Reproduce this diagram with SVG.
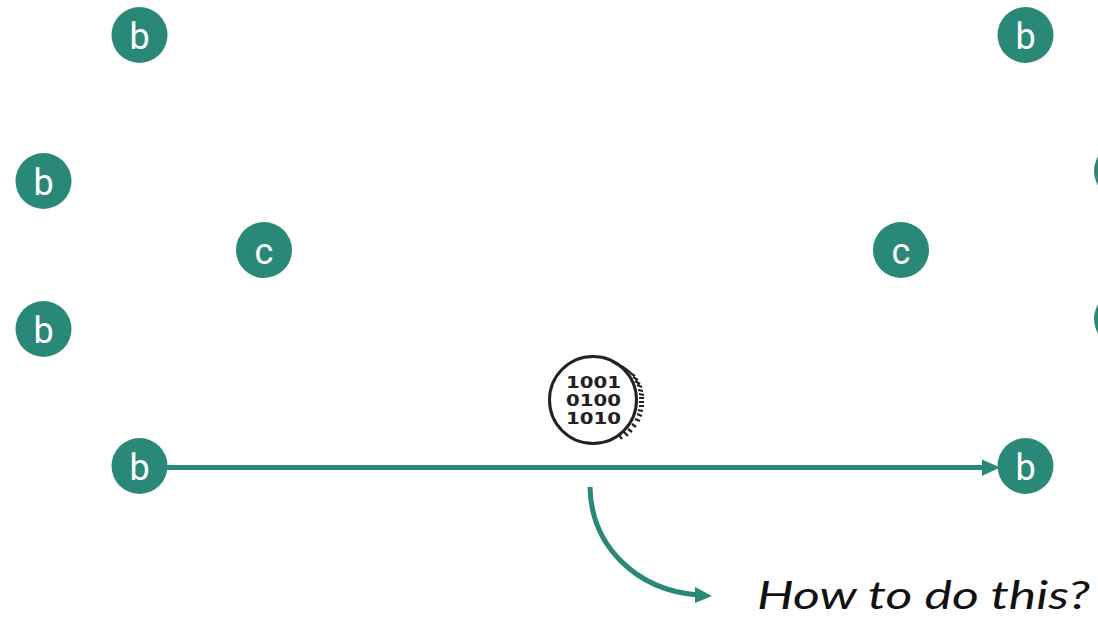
<svg xmlns="http://www.w3.org/2000/svg" width="1098" height="618" viewBox="0 0 1098 618">
<style>
.n{fill:#2a8878}
.l{font-family:Roboto,"Liberation Sans",sans-serif;font-size:36px;fill:#fff;text-anchor:middle}
.c{fill:none;stroke:#2a8878;stroke-width:5}
.h{fill:#2a8878}
.d{font-family:"DejaVu Sans","Liberation Sans",sans-serif;font-weight:700;font-size:15.400px;fill:#222;text-anchor:middle}
</style>
<rect width="1098" height="618" fill="#fff"/>
<g id="connectors">
<path class="c" d="M167 467.500H986"/>
<path class="h" d="M982 459.500L1000 467.500L982 476Z"/>
<path class="c" d="M590 487C591 545 635 590 698 595"/>
<path class="h" d="M695 587L712 596L695 603Z"/>
</g>
<g id="b1"><circle class="n" cx="139.500" cy="35" r="28"/><text class="l" x="139.500" y="49">b</text></g>
<g id="b2"><circle class="n" cx="1025.500" cy="35" r="28"/><text class="l" x="1025.500" y="49">b</text></g>
<g id="b3"><circle class="n" cx="43.500" cy="181" r="28"/><text class="l" x="43.500" y="195">b</text></g>
<g id="b4"><circle class="n" cx="43.500" cy="329" r="28"/><text class="l" x="43.500" y="343">b</text></g>
<g id="b5"><circle class="n" cx="139.500" cy="466" r="28"/><text class="l" x="139.500" y="480">b</text></g>
<g id="b6"><circle class="n" cx="1025.500" cy="466" r="28"/><text class="l" x="1025.500" y="480">b</text></g>
<g id="b7"><circle class="n" cx="1122" cy="171" r="28"/></g>
<g id="b8"><circle class="n" cx="1122" cy="319" r="28"/></g>
<g id="c1"><circle class="n" cx="264" cy="250" r="28"/><text class="l" x="264" y="264">c</text></g>
<g id="c2"><circle class="n" cx="901" cy="250" r="28"/><text class="l" x="901" y="264">c</text></g>
<g id="binary">
<circle cx="593" cy="400" r="43.500" fill="#fff" stroke="#222" stroke-width="3"/>
<path d="M612 361L617 365M617 363L622 367M622 366L627 370M626 369L631 373M630 373L635 376M633 377L638 380M635 381L640 384M637 385L642 387M638 390L643 391M639 394L644 395M639 398L644 398M639 402L644 402M639 406L644 406M638 410L643 411M637 414L642 416M635 419L640 421M632 424L636 427M628 429L632 432M624 432L628 436M619 435L622 439" stroke="#222" stroke-width="2.200" fill="none"/>
<text class="d" x="593.500" y="388" textLength="55" lengthAdjust="spacingAndGlyphs">1001</text>
<text class="d" x="593.500" y="406" textLength="55" lengthAdjust="spacingAndGlyphs">0100</text>
<text class="d" x="593.500" y="424" textLength="55" lengthAdjust="spacingAndGlyphs">1010</text>
</g>
<text x="757" y="609" font-family="Lato,'Open Sans',sans-serif" font-style="italic" font-size="38" fill="#111" textLength="333" lengthAdjust="spacingAndGlyphs">How to do this?</text>
</svg>
